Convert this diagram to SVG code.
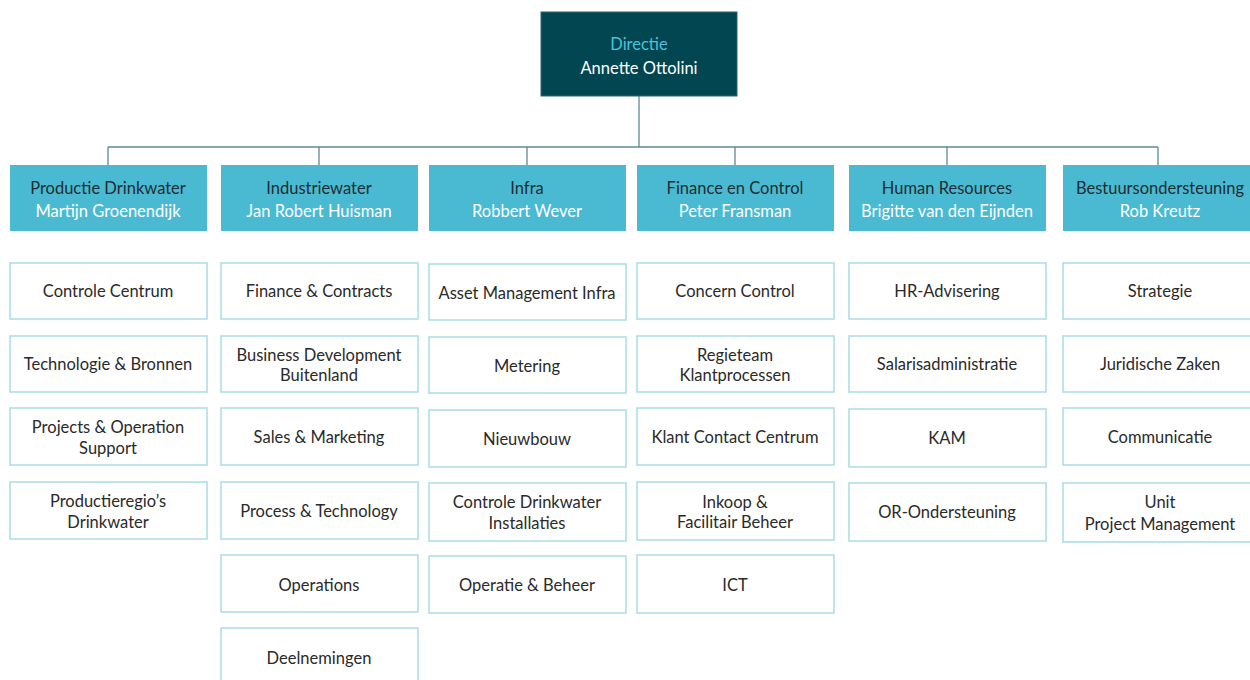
<svg xmlns="http://www.w3.org/2000/svg" width="1250" height="680" viewBox="0 0 1250 680">
<style>
.bg{fill:#ffffff}
.top{fill:#024652;stroke:#2d6670;stroke-width:1}
.hd{fill:#4abad2}
.ch{fill:#ffffff;stroke:#a9dbe6;stroke-width:1.5}
.t{font-family:Lato,"Noto Sans",sans-serif;font-size:16.5px;text-anchor:middle;fill:#2a2a2a}
.th{fill:#1f2d33}
.tw{fill:#ffffff}
.tc{fill:#4ec0d8}
.ln{stroke:#5d8c94;stroke-width:1.3;fill:none}
</style>
<rect class="bg" x="0" y="0" width="1250" height="680"/>
<g id="connectors">
<path class="ln" d="M639 96V147M108 147H1158M108 147V165M319 147V165M527 147V165M735 147V165M947 147V165M1158 147V165"/>
</g>
<g id="directie">
<rect class="top" x="541" y="12" width="196" height="84"/>
<text class="t tc" x="639" y="50">Directie</text>
<text class="t tw" x="639" y="74">Annette Ottolini</text>
</g>
<g id="h1"><rect class="hd" x="10" y="165" width="197" height="66"/><text class="t th" x="108" y="194">Productie Drinkwater</text><text class="t tw" x="108" y="217">Martijn Groenendijk</text></g>
<g id="h2"><rect class="hd" x="221" y="165" width="197" height="66"/><text class="t th" x="319" y="194">Industriewater</text><text class="t tw" x="319" y="217">Jan Robert Huisman</text></g>
<g id="h3"><rect class="hd" x="429" y="165" width="197" height="66"/><text class="t th" x="527" y="194">Infra</text><text class="t tw" x="527" y="217">Robbert Wever</text></g>
<g id="h4"><rect class="hd" x="637" y="165" width="197" height="66"/><text class="t th" x="735" y="194">Finance en Control</text><text class="t tw" x="735" y="217">Peter Fransman</text></g>
<g id="h5"><rect class="hd" x="849" y="165" width="197" height="66"/><text class="t th" x="947" y="194">Human Resources</text><text class="t tw" x="947" y="217">Brigitte van den Eijnden</text></g>
<g id="h6"><rect class="hd" x="1063" y="165" width="197" height="66"/><text class="t th" x="1160" y="194">Bestuursondersteuning</text><text class="t tw" x="1160" y="217">Rob Kreutz</text></g>

<g id="c1a"><rect class="ch" x="10" y="263" width="197" height="56"/><text class="t" x="108" y="297">Controle Centrum</text></g>
<g id="c1b"><rect class="ch" x="10" y="336" width="197" height="56"/><text class="t" x="108" y="370">Technologie &amp; Bronnen</text></g>
<g id="c1c"><rect class="ch" x="10" y="408" width="197" height="57"/><text class="t" x="108" y="433">Projects &amp; Operation</text><text class="t" x="108" y="454">Support</text></g>
<g id="c1d"><rect class="ch" x="10" y="482" width="197" height="57"/><text class="t" x="108" y="507">Productieregio’s</text><text class="t" x="108" y="528">Drinkwater</text></g>

<g id="c2a"><rect class="ch" x="221" y="263" width="197" height="56"/><text class="t" x="319" y="297">Finance &amp; Contracts</text></g>
<g id="c2b"><rect class="ch" x="221" y="336" width="197" height="56"/><text class="t" x="319" y="361">Business Development</text><text class="t" x="319" y="381">Buitenland</text></g>
<g id="c2c"><rect class="ch" x="221" y="408" width="197" height="57"/><text class="t" x="319" y="443">Sales &amp; Marketing</text></g>
<g id="c2d"><rect class="ch" x="221" y="482" width="197" height="57"/><text class="t" x="319" y="517">Process &amp; Technology</text></g>
<g id="c2e"><rect class="ch" x="221" y="555" width="197" height="57"/><text class="t" x="319" y="591">Operations</text></g>
<g id="c2f"><rect class="ch" x="221" y="628" width="197" height="60"/><text class="t" x="319" y="664">Deelnemingen</text></g>

<g id="c3a"><rect class="ch" x="429" y="264" width="197" height="56"/><text class="t" x="527" y="299">Asset Management Infra</text></g>
<g id="c3b"><rect class="ch" x="429" y="337" width="197" height="56"/><text class="t" x="527" y="372">Metering</text></g>
<g id="c3c"><rect class="ch" x="429" y="410" width="197" height="57"/><text class="t" x="527" y="445">Nieuwbouw</text></g>
<g id="c3d"><rect class="ch" x="429" y="483" width="197" height="58"/><text class="t" x="527" y="508">Controle Drinkwater</text><text class="t" x="527" y="529">Installaties</text></g>
<g id="c3e"><rect class="ch" x="429" y="556" width="197" height="57"/><text class="t" x="527" y="591">Operatie &amp; Beheer</text></g>

<g id="c4a"><rect class="ch" x="637" y="263" width="197" height="56"/><text class="t" x="735" y="297">Concern Control</text></g>
<g id="c4b"><rect class="ch" x="637" y="336" width="197" height="56"/><text class="t" x="735" y="361">Regieteam</text><text class="t" x="735" y="381">Klantprocessen</text></g>
<g id="c4c"><rect class="ch" x="637" y="408" width="197" height="57"/><text class="t" x="735" y="443">Klant Contact Centrum</text></g>
<g id="c4d"><rect class="ch" x="637" y="482" width="197" height="58"/><text class="t" x="735" y="508">Inkoop &amp;</text><text class="t" x="735" y="528">Facilitair Beheer</text></g>
<g id="c4e"><rect class="ch" x="637" y="555" width="197" height="58"/><text class="t" x="735" y="591">ICT</text></g>

<g id="c5a"><rect class="ch" x="849" y="263" width="197" height="56"/><text class="t" x="947" y="297">HR-Advisering</text></g>
<g id="c5b"><rect class="ch" x="849" y="336" width="197" height="56"/><text class="t" x="947" y="370">Salarisadministratie</text></g>
<g id="c5c"><rect class="ch" x="849" y="409" width="197" height="58"/><text class="t" x="947" y="444">KAM</text></g>
<g id="c5d"><rect class="ch" x="849" y="483" width="197" height="58"/><text class="t" x="947" y="518">OR-Ondersteuning</text></g>

<g id="c6a"><rect class="ch" x="1063" y="263" width="197" height="56"/><text class="t" x="1160" y="297">Strategie</text></g>
<g id="c6b"><rect class="ch" x="1063" y="336" width="197" height="56"/><text class="t" x="1160" y="370">Juridische Zaken</text></g>
<g id="c6c"><rect class="ch" x="1063" y="408" width="197" height="57"/><text class="t" x="1160" y="443">Communicatie</text></g>
<g id="c6d"><rect class="ch" x="1063" y="483" width="197" height="59"/><text class="t" x="1160" y="508">Unit</text><text class="t" x="1160" y="530">Project Management</text></g>
</svg>
